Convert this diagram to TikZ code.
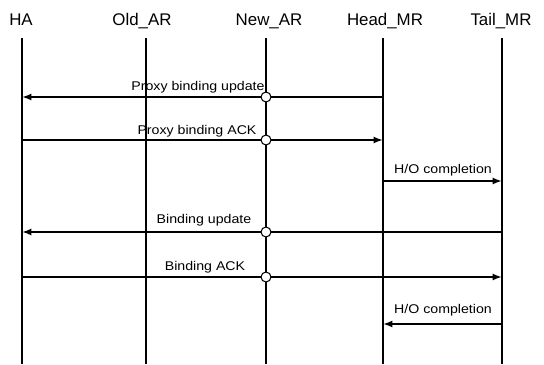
\documentclass[tikz,border=0pt]{standalone}
\usepackage{fontspec}
\setmainfont{Liberation Sans}
\newfontfamily\msgfont[FakeStretch=1.12]{Liberation Sans}
\usetikzlibrary{arrows.meta}

\begin{document}
\begin{tikzpicture}[x=0.03cm, y=-0.03cm,
  entity/.style={font=\fontsize{14.4}{16}\selectfont, anchor=base, inner sep=0pt},
  life/.style={line width=1.4pt},
  msg/.style={-{Latex[length=8pt, width=6pt]}, line width=1.9pt},
  relay/.style={circle, draw, fill=white, line width=0.9pt,
                minimum size=8.5pt, inner sep=0pt},
  tag/.style={font=\msgfont\fontsize{10.8}{12}\selectfont, anchor=base, inner sep=0pt}]
  \useasboundingbox (0,0) rectangle (544,364);

  % entities
  \node[entity] (ha)   at (21,25)  {HA};
  \node[entity] (old)  at (142,25) {Old\_AR};
  \node[entity] (new)  at (269,25) {New\_AR};
  \node[entity] (head) at (385,25) {Head\_MR};
  \node[entity] (tail) at (501,25) {Tail\_MR};

  % lifelines
  \coordinate (haT)   at (22,38);  \coordinate (haB)   at (22,364);
  \coordinate (oldT)  at (146,38); \coordinate (oldB)  at (146,364);
  \coordinate (newT)  at (266,38); \coordinate (newB)  at (266,364);
  \coordinate (headT) at (383,38); \coordinate (headB) at (383,364);
  \coordinate (tailT) at (502,38); \coordinate (tailB) at (502,364);
  \draw[life] (haT) -- (haB);
  \draw[life] (oldT) -- (oldB);
  \draw[life] (newT) -- (newB);
  \draw[life] (headT) -- (headB);
  \draw[life] (tailT) -- (tailB);

  % message rows
  \coordinate (m1) at (0,97);
  \coordinate (m2) at (0,140);
  \coordinate (m3) at (0,181);
  \coordinate (m4) at (0,232);
  \coordinate (m5) at (0,277);
  \coordinate (m6) at (0,324);

  % messages
  \draw[msg] (headT |- m1) -- (haT |- m1);
  \node[relay] (c1) at (newT |- m1) {};
  \node[tag] (l1) at (198,90) {Proxy binding update};

  \draw[msg] (haT |- m2) -- (headT |- m2);
  \node[relay] (c2) at (newT |- m2) {};
  \node[tag] (l2) at (197,134) {Proxy binding ACK};

  \draw[msg] (headT |- m3) -- (tailT |- m3);
  \node[tag] (l3) at (443,173) {H/O completion};

  \draw[msg] (tailT |- m4) -- (haT |- m4);
  \node[relay] (c4) at (newT |- m4) {};
  \node[tag] (l4) at (204,223) {Binding update};

  \draw[msg] (haT |- m5) -- (tailT |- m5);
  \node[relay] (c5) at (newT |- m5) {};
  \node[tag] (l5) at (205,270) {Binding ACK};

  \draw[msg] (tailT |- m6) -- (headT |- m6);
  \node[tag] (l6) at (443,313) {H/O completion};
\end{tikzpicture}
\end{document}
